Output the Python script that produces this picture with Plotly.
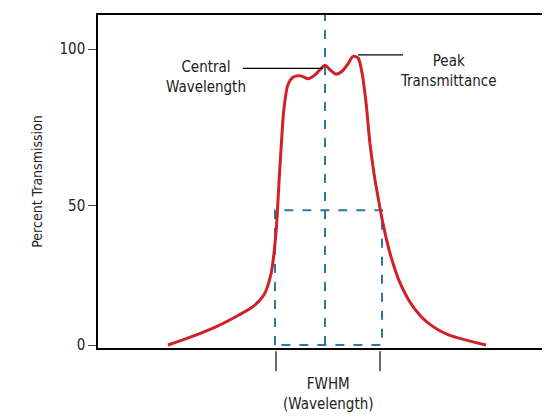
import plotly.graph_objects as go

# curve points (x in wavelength units, y percent transmission)
curve_x = [160, 185, 210, 230, 245, 256, 263, 268, 271, 273, 276, 280, 285, 292, 300, 306, 312, 317, 322, 328, 334, 340, 345, 350, 354, 358, 362, 366, 370, 375, 382, 392, 405, 420, 440, 460, 478]
curve_y = [0, 3, 6.5, 10, 13, 17, 24, 38, 55, 66, 80, 88, 90.5, 91, 90, 91, 93, 94.5, 93, 91.5, 92.5, 95, 97.5, 97, 92, 82, 68, 58, 50, 41, 31, 21, 13, 7.5, 3.5, 1.5, 0]
tick_vals = [0, 47, 100]
tick_text = ["0", "50", "100"]
center_x = 317
fwhm_lo, fwhm_hi, half_y = 267, 374, 45.5

fig = go.Figure()
dash = dict(color="#2b7aa0", width=2, dash="dash")
fig.add_trace(go.Scatter(x=[center_x, center_x], y=[0, 111.5], mode="lines", line=dash))
fig.add_trace(go.Scatter(x=[fwhm_lo, fwhm_lo, fwhm_hi, fwhm_hi, fwhm_lo], y=[0, half_y, half_y, 0, 0], mode="lines", line=dash))
fig.add_trace(go.Scatter(x=curve_x, y=curve_y, mode="lines", line=dict(color="#d0202a", width=3, shape="spline", smoothing=0.8)))

font = dict(family="DejaVu Sans Condensed, Liberation Sans Narrow, sans-serif", size=15, color="#222")
fig.update_layout(
    width=550, height=416, margin=dict(l=90, r=5, t=7, b=76, autoexpand=False),
    showlegend=False, plot_bgcolor="white", paper_bgcolor="white", font=font,
    xaxis=dict(range=[90, 545], showticklabels=False, showgrid=False, zeroline=False, ticks="", automargin=False,
               showline=True, linecolor="black", linewidth=1.5, mirror=True),
    yaxis=dict(range=[-1, 111.5], tickvals=tick_vals, ticktext=tick_text, showgrid=False, zeroline=False,
               automargin=False, showline=True, linecolor="black", linewidth=1.5, mirror=True,
               ticks="outside", ticklen=8,
               title=dict(text="Percent Transmission", font=dict(size=14), standoff=14)),
)
line = dict(color="black", width=1.2)
fig.add_shape(type="line", x0=235, x1=315, y0=93.5, y1=93.5, line=line)
fig.add_shape(type="line", x0=350, x1=395, y0=98, y1=98, line=line)
for xv in [fwhm_lo + 1, fwhm_hi - 2]:
    fig.add_shape(type="line", xref="x", yref="paper", x0=xv, x1=xv, y0=-0.01, y1=-0.07, line=line)
fig.add_annotation(x=198, y=90.5, text="Central<br>Wavelength", showarrow=False, align="center")
fig.add_annotation(x=440, y=92.5, text="Peak<br>Transmittance", showarrow=False, align="center")
fig.add_annotation(x=320, xref="x", y=-0.2, yref="paper", text="FWHM<br>(Wavelength)", showarrow=False, align="center")
fig.write_html("out.html")
